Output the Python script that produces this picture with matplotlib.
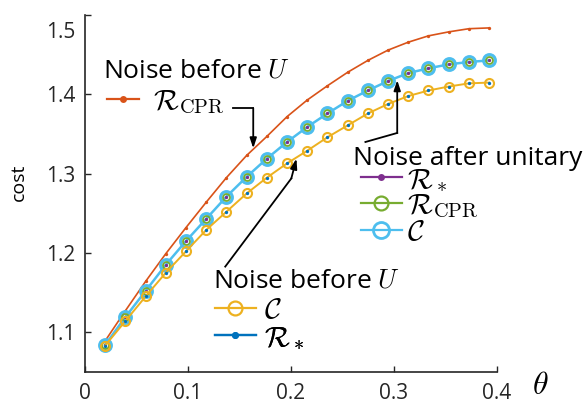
import numpy as np
import matplotlib.pyplot as plt
from matplotlib.lines import Line2D
import matplotlib.transforms as mtransforms

plt.rcParams['font.family'] = ['Open Sans', 'DejaVu Sans']
plt.rcParams['mathtext.fontset'] = 'cm'

# theta grid: k*pi/160, k = 1..20
theta = np.arange(1, 21) * np.pi / 160

# noise before U
before_cpr = [1.089, 1.127, 1.164, 1.199, 1.232, 1.264, 1.295, 1.323, 1.347, 1.372,
              1.393, 1.411, 1.428, 1.443, 1.456, 1.466, 1.474, 1.479, 1.483, 1.484]
before_c = [1.083, 1.114, 1.145, 1.175, 1.202, 1.229, 1.252, 1.275, 1.295, 1.313,
            1.329, 1.346, 1.361, 1.376, 1.388, 1.398, 1.405, 1.410, 1.414, 1.415]
before_star = list(before_c)

# noise after unitary
after_c = [1.084, 1.119, 1.152, 1.185, 1.215, 1.243, 1.271, 1.296, 1.319, 1.340,
           1.359, 1.376, 1.392, 1.405, 1.417, 1.427, 1.433, 1.438, 1.441, 1.443]
after_cpr = list(after_c)
after_star = list(after_c)

yticks = [1.1, 1.2, 1.3, 1.4, 1.5]
xticks = [0, 0.1, 0.2, 0.3, 0.4]

c_orange = '#D95319'
c_yellow = '#EDB120'
c_blue = '#0072BD'
c_purple = '#7E2F8E'
c_green = '#77AC30'
c_cyan = '#4DBEEE'

W, H = 586, 401
fig = plt.figure(figsize=(W / 100, H / 100), dpi=100)
ax = fig.add_axes([0.145, 0.073, 0.7025, 0.889])

ax.plot(theta, before_cpr, '-', color=c_orange, lw=1.2, marker='o', ms=2.4, mew=0)
ax.plot(theta, after_c, '-', color=c_cyan, lw=1.8, marker='o', ms=8.5, mfc='none', mew=2.2)
ax.plot(theta, after_cpr, ls='none', color=c_green, marker='o', ms=5, mfc='none', mew=1.3)
ax.plot(theta, after_star, ls='none', color=c_purple, marker='o', ms=2.4, mew=0)
ax.plot(theta, before_c, '-', color=c_yellow, lw=1.4, marker='o', ms=6.5, mfc='none', mew=1.5)
ax.plot(theta, before_star, ls='none', color=c_blue, marker='o', ms=2.4, mew=0)

ax.set_xlim(0, 0.4)
ax.set_ylim(1.05, 1.5)
ax.set_xticks(xticks)
ax.set_xticklabels(['0', '0.1', '0.2', '0.3', '0.4'])
ax.set_yticks(yticks)
ax.set_yticklabels(['1.1', '1.2', '1.3', '1.4', '1.5'])
ax.tick_params(direction='in', length=4, width=1, labelsize=15, colors='#262626')
ax.tick_params(axis='x', pad=8)
ax.tick_params(axis='y', pad=7)
for s in ['top', 'right']:
    ax.spines[s].set_visible(False)
for s in ['left', 'bottom']:
    ax.spines[s].set_linewidth(1.2)
    ax.spines[s].set_color('#262626')

# the top tick label sits a bit lower in the reference
lab = ax.get_yticklabels()[-1]
lab.set_transform(lab.get_transform() + mtransforms.ScaledTranslation(0, -15 / 100, fig.dpi_scale_trans))

fig.text(19 / W, 1 - 182 / H, 'cost', rotation=90, ha='center', va='center', fontsize=14)
fig.text(540 / W, 1 - 386 / H, r'$\theta$', ha='center', va='center', fontsize=23)

# legend titles
title_kw = dict(fontsize=19, ha='left', va='baseline')
fig.text(103 / W, 1 - 77 / H, r'Noise before $U$', **title_kw)
fig.text(353 / W, 1 - 165 / H, 'Noise after unitary', **title_kw)
fig.text(213 / W, 1 - 287 / H, r'Noise before $U$', **title_kw)


# legend entries, one small legend per row
def proxy(color, marker, ms, mfc=None, mew=0.0):
    return Line2D([], [], color=color, lw=1.6, marker=marker, ms=ms,
                  mfc=mfc if mfc else color, mew=mew)


entries = []


def entry(handle, label, x, y, hl, pad):
    leg = ax.legend([handle], [label], loc='center left', bbox_to_anchor=(x / W, 1 - y / H),
                    bbox_transform=fig.transFigure, frameon=False, borderpad=0, borderaxespad=0,
                    handlelength=hl, handletextpad=pad, fontsize=21)
    ax.add_artist(leg)
    entries.append((leg, x, y))


entry(proxy(c_orange, 'o', 5), r'$\mathcal{R}_{\rm CPR}$', 107, 99, 1.1, 0.48)
entry(proxy(c_purple, 'o', 5), r'$\mathcal{R}_*$', 361, 177, 1.4, 0.17)
entry(proxy(c_green, 'o', 10, 'none', 1.6), r'$\mathcal{R}_{\rm CPR}$', 361, 203, 1.4, 0.17)
entry(proxy(c_cyan, 'o', 11.5, 'none', 2.0), r'$\mathcal{C}$', 361, 230, 1.4, 0.17)
entry(proxy(c_yellow, 'o', 10, 'none', 1.6), r'$\mathcal{C}$', 215, 308, 1.4, 0.28)
entry(proxy(c_blue, 'o', 5), r'$\mathcal{R}_*$', 215, 335, 1.4, 0.28)

# shift each row so its sample line sits at the wanted height
fig.canvas.draw()
renderer = fig.canvas.get_renderer()
for leg, x, y in entries:
    bb = leg.legend_handles[0].get_window_extent(renderer)
    dy = (H - y) - (bb.y0 + bb.y1) / 2
    leg.set_bbox_to_anchor((x / W, 1 - y / H + dy / H), transform=fig.transFigure)

# arrows (data coordinates)
aprops = dict(arrowstyle='-|>,head_length=0.6,head_width=0.2', color='black', lw=1.3,
              shrinkA=0, shrinkB=0)
ax.plot([0.144, 0.1635], [1.3827, 1.3827], color='black', lw=1.3)
ax.annotate('', xy=(0.1635, 1.332), xytext=(0.1635, 1.3827), arrowprops=aprops)
ax.plot([0.2725, 0.3034], [1.340, 1.3514], color='black', lw=1.3)
ax.annotate('', xy=(0.3034, 1.418), xytext=(0.3034, 1.3514), arrowprops=aprops)
ax.plot([0.1363, 0.2005], [1.1827, 1.294], color='black', lw=1.3)
ax.annotate('', xy=(0.2055, 1.319), xytext=(0.2005, 1.294), arrowprops=aprops)

fig.savefig('out.png', dpi=100)
